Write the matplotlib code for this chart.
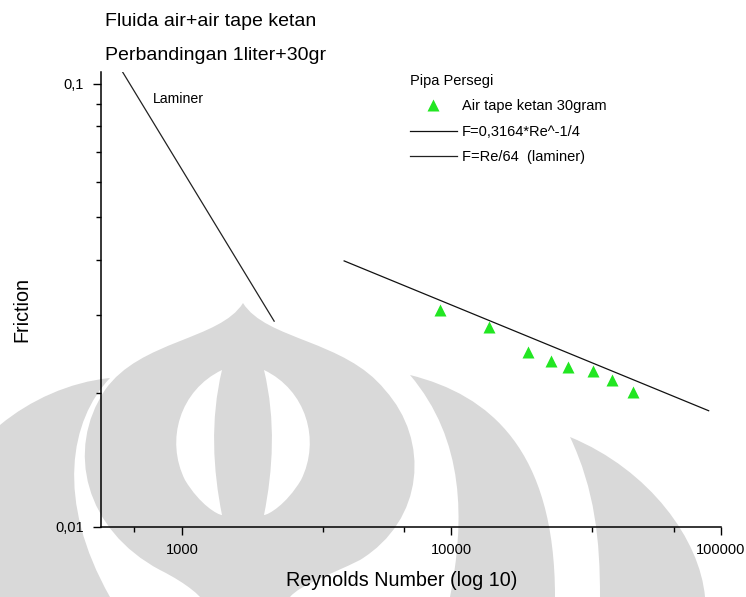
import numpy as np
import matplotlib
matplotlib.use('Agg')
import matplotlib.pyplot as plt
from matplotlib.path import Path
from matplotlib.patches import PathPatch
from matplotlib.ticker import FixedLocator, NullFormatter

plt.rcParams['font.family'] = ['Liberation Sans', 'DejaVu Sans']

# data
re_data = [9050, 13820, 19280, 23330, 27030, 33440, 39570, 47210]
f_data = [0.0309, 0.0282, 0.0248, 0.0237, 0.0229, 0.0225, 0.0214, 0.0201]
re_turb = [4000, 90000]
re_lam = [500, 2200]
x_major = [1000, 10000, 100000]
x_minor = [666.7, 3333, 6667, 33333, 66667]
x_labels = ['1000', '10000', '100000']
y_major = [0.01, 0.1]
y_minor = [0.02, 0.03, 0.04, 0.05, 0.06, 0.07, 0.08, 0.09]
y_labels = ['0,01', '0,1']

GRAY = '#d9d9d9'

fig = plt.figure(figsize=(7.46, 5.97), dpi=100)

# faint logo in the background (pixel coordinates)
bg = fig.add_axes([0, 0, 1, 1], zorder=0)
bg.set_xlim(0, 746)
bg.set_ylim(597, 0)
bg.axis('off')

def shape(pts, color=GRAY):
    verts = [pts[0]]
    codes = [Path.MOVETO]
    for seg in pts[1:]:
        if len(seg) == 3:
            verts += list(seg)
            codes += [Path.CURVE4] * 3
        else:
            verts.append(seg)
            codes.append(Path.LINETO)
    verts.append(pts[0])
    codes.append(Path.CLOSEPOLY)
    bg.add_patch(PathPatch(Path(verts, codes), fc=color, ec='none'))

# outer petals, left and right
shape([(0, 425), ((30, 400), (70, 382), (110, 378)),
       ((70, 420), (55, 500), (110, 597)), (0, 597)])
shape([(410, 375), ((490, 395), (555, 450), (555, 597)), (450, 597),
       ((465, 520), (465, 440), (410, 375))])
shape([(570, 437), ((650, 470), (700, 540), (705, 597)), (600, 597),
       ((600, 540), (595, 490), (570, 437))])
# onion body
shape([(243, 303), ((220, 340), (140, 340), (105, 390)),
       ((65, 450), (85, 530), (160, 570)), ((190, 585), (200, 597), (200, 597)),
       (290, 597), ((300, 585), (330, 575), (360, 560)),
       ((425, 520), (430, 440), (385, 390)), ((345, 340), (266, 340), (243, 303))])
# white inner lobes
shape([(222, 370), ((180, 390), (165, 440), (185, 480)),
       ((200, 505), (218, 515), (222, 515)), ((213, 470), (210, 420), (222, 370))], 'white')
shape([(264, 370), ((306, 390), (321, 440), (301, 480)),
       ((286, 505), (268, 515), (264, 515)), ((273, 470), (276, 420), (264, 370))], 'white')

ax = fig.add_axes([100.7 / 746, 1 - 526.7 / 597, (721 - 100.7) / 746, (526.7 - 72.3) / 597], zorder=1)
ax.patch.set_alpha(0)
ax.set_xscale('log')
ax.set_yscale('log')
ax.set_xlim(500, 100000)
ax.set_ylim(0.01, 0.106)

re_t = np.array(re_turb, dtype=float)
re_l = np.array(re_lam, dtype=float)
ax.plot(re_t, 0.3164 * re_t ** -0.25, color='#111111', lw=0.9, label='F=0,3164*Re^-1/4')
ax.plot(re_l, 64 / re_l, color='#222222', lw=0.9, label='F=Re/64  (laminer)')
ax.plot(re_data, f_data, linestyle='none', marker='^', ms=8.2, color='#22e622',
        mec='none', label='Air tape ketan 30gram')

ax.text(780, 0.0903, 'Laminer', fontsize=10.2, va='baseline')

for s in ['top', 'right']:
    ax.spines[s].set_visible(False)
for s in ['left', 'bottom']:
    ax.spines[s].set_linewidth(1.1)

ax.xaxis.set_major_locator(FixedLocator(x_major))
ax.xaxis.set_minor_locator(FixedLocator(x_minor))
ax.xaxis.set_minor_formatter(NullFormatter())
ax.set_xticklabels(x_labels)
ax.yaxis.set_major_locator(FixedLocator(y_major))
ax.yaxis.set_minor_locator(FixedLocator(y_minor))
ax.yaxis.set_minor_formatter(NullFormatter())
ax.set_yticklabels(y_labels)
ax.tick_params(which='major', length=6, width=1, labelsize=10.5, pad=6)
ax.tick_params(which='minor', length=3.6, width=1)

ax.set_xlabel('Reynolds Number (log 10)', fontsize=14.2)
ax.xaxis.set_label_coords((402 - 100.7) / 620.3, -(580 - 526.7) / 454.4)
ax.xaxis.label.set_va('center')
ax.set_ylabel('Friction', fontsize=14.2)
ax.yaxis.set_label_coords((22 - 100.7) / 620.3, (526.7 - 310) / 454.4)
ax.yaxis.label.set_va('center')

fig.text(105 / 746, 1 - 26 / 597, 'Fluida air+air tape ketan', fontsize=14.0, va='baseline')
fig.text(105 / 746, 1 - 60 / 597, 'Perbandingan 1liter+30gr', fontsize=14.0, va='baseline')

h, l = ax.get_legend_handles_labels()
leg = ax.legend([h[2], h[0], h[1]], [l[2], l[0], l[1]], title='Pipa Persegi', frameon=False,
                loc='upper left', bbox_to_anchor=(410 / 746, 1 - 74 / 597),
                bbox_transform=fig.transFigure, fontsize=10.5, title_fontsize=10.5,
                handlelength=3.2, handletextpad=0.34, labelspacing=0.78, borderpad=0,
                borderaxespad=0, alignment='left', numpoints=1)

fig.savefig('out.png', dpi=100)
